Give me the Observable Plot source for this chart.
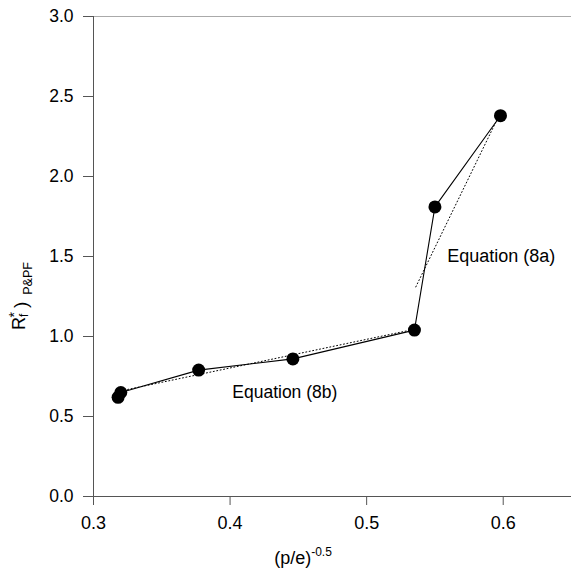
<!DOCTYPE html>
<html><head><meta charset="utf-8">
<script src="https://cdn.jsdelivr.net/npm/d3@7"></script>
<script src="https://cdn.jsdelivr.net/npm/@observablehq/plot@0.6"></script>
<style>html,body{margin:0;padding:0;background:#fff} svg{display:block}</style>
</head><body><div id="chart"></div>
<script>
// Data
const xVals = [0.318, 0.320, 0.377, 0.446, 0.535, 0.550, 0.598];
const yVals = [0.62, 0.65, 0.79, 0.86, 1.04, 1.81, 2.38];
const eq8aX = [0.536, 0.598];
const eq8aY = [1.31, 2.40];
const eq8bX = [0.320, 0.535];
const eq8bY = [0.66, 1.045];
const xTicks = [0.3, 0.4, 0.5, 0.6];
const yTicks = [0, 0.5, 1.0, 1.5, 2.0, 2.5, 3.0];
const labelText = ["Equation (8a)", "Equation (8b)"];
const labelX = [0.559, 0.4016];
const labelY = [1.50, 0.65];
const labelSize = [18, 17.5];

const pts = xVals.map((x, i) => ({x, y: yVals[i]}));
const fitA = eq8aX.map((x, i) => ({x, y: eq8aY[i]}));
const fitB = eq8bX.map((x, i) => ({x, y: eq8bY[i]}));
const labels = labelText.map((t, i) => ({t, x: labelX[i], y: labelY[i], s: labelSize[i]}));

const font = "'Liberation Sans', Arial, Helvetica, sans-serif";
const axisColor = "#555";

const chart = Plot.plot({
  width: 571,
  height: 569,
  marginLeft: 93,
  marginRight: 0,
  marginTop: 16,
  marginBottom: 73,
  x: {domain: [0.3, 0.65]},
  y: {domain: [0, 3]},
  style: {fontFamily: font, fontSize: "17px", color: "#000", background: "#fff", overflow: "visible"},
  marks: [
    Plot.ruleY([3], {stroke: "#aaa", strokeWidth: 1}),
    Plot.ruleY([0], {stroke: axisColor, strokeWidth: 1}),
    Plot.ruleX([0.3], {stroke: axisColor, strokeWidth: 1}),
    Plot.axisX(xTicks, {tickSize: 9, tickPadding: 11, tickFormat: d3.format(".1f"), label: null, stroke: axisColor, fontSize: 18}),
    Plot.axisY(yTicks, {tickSize: 10, tickPadding: 10, tickFormat: d3.format(".1f"), label: null, stroke: axisColor, fontSize: 17.5}),
    Plot.line(fitA, {x: "x", y: "y", stroke: "#000", strokeWidth: 1, strokeDasharray: "1,2.5"}),
    Plot.line(fitB, {x: "x", y: "y", stroke: "#000", strokeWidth: 1, strokeDasharray: "1,2.5"}),
    Plot.line(pts, {x: "x", y: "y", stroke: "#000", strokeWidth: 1.1}),
    Plot.dot(pts, {x: "x", y: "y", r: 6.5, fill: "#000", stroke: "none"}),
    Plot.text(labels, {x: "x", y: "y", text: "t", fontSize: "s", textAnchor: "start", fill: "#000"})
  ]
});
document.getElementById("chart").appendChild(chart);

const svg = d3.select(chart);
// x-axis title with superscript
const xt = svg.append("text")
  .attr("x", 303).attr("y", 564)
  .attr("font-family", font).attr("font-size", 18).attr("fill", "#000");
xt.append("tspan").text("(p/e)");
xt.append("tspan").attr("font-size", 12).attr("dy", -8).text("-0.5");

// y-axis title with sub/superscripts, rotated
const yt = svg.append("text")
  .attr("transform", "translate(25,296) rotate(-90)")
  .attr("font-family", font).attr("font-size", 18).attr("fill", "#000");
yt.append("tspan").text("R");
yt.append("tspan").attr("font-size", 12).attr("dy", 3).text("f");
yt.append("tspan").attr("font-size", 14).attr("dx", -4).attr("dy", -9).text("*");
yt.append("tspan").attr("font-size", 19).attr("dx", 4).attr("dy", 8).text(")");
yt.append("tspan").attr("font-size", 12.5).attr("dx", 7).attr("dy", 5).text("P&PF");
</script>
</body></html>
